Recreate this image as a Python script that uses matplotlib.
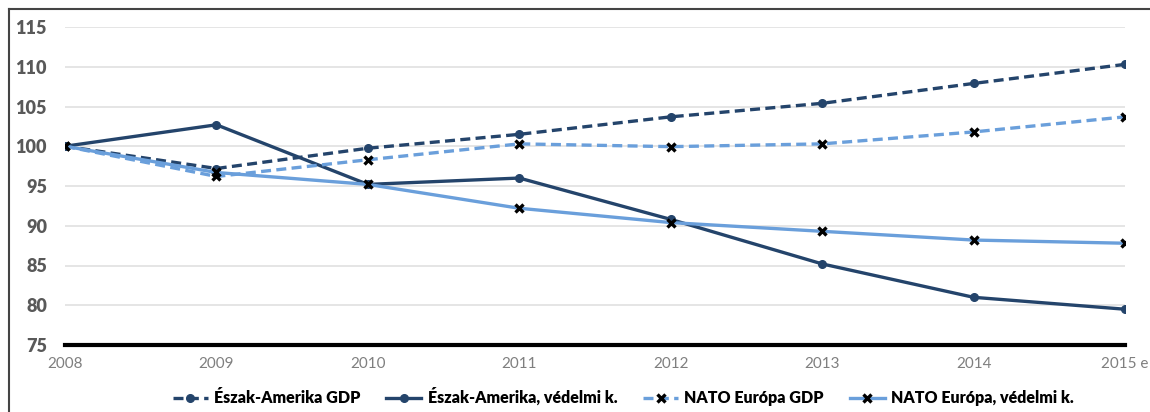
import matplotlib
matplotlib.use("Agg")
import matplotlib.pyplot as plt
from matplotlib.lines import Line2D

plt.rcParams["font.family"] = ["Lato", "DejaVu Sans"]

years = [2008, 2009, 2010, 2011, 2012, 2013, 2014, 2015]
xlabels = ["2008", "2009", "2010", "2011", "2012", "2013", "2014", "2015 e"]
na_gdp = [100, 97.2, 99.75, 101.5, 103.7, 105.4, 107.9, 110.3]
na_def = [100, 102.7, 95.2, 96.0, 90.8, 85.2, 81.0, 79.5]
eu_gdp = [100, 96.2, 98.3, 100.3, 99.95, 100.3, 101.8, 103.7]
eu_def = [100, 96.7, 95.2, 92.2, 90.4, 89.3, 88.2, 87.8]
yticks = [75, 80, 85, 90, 95, 100, 105, 110, 115]

dark = "#24446B"
light = "#6A9FDB"

fig = plt.figure(figsize=(11.5, 4.12), dpi=100)
ax = fig.add_axes([65/1150, 67/412, 1060/1150, 318/412])

ax.plot(years, na_gdp, color=dark, lw=2.4, ls=(0, (3, 1.6)), marker="o", ms=5.5,
        label="Észak-Amerika GDP", zorder=3)
ax.plot(years, na_def, color=dark, lw=2.4, ls="-", marker="o", ms=5.5,
        label="Észak-Amerika, védelmi k.", zorder=3)
ax.plot(years, eu_gdp, color=light, lw=2.4, ls=(0, (3, 1.6)), marker="x", ms=5.5,
        mec="black", mew=2.4, label="NATO Európa GDP", zorder=4)
ax.plot(years, eu_def, color=light, lw=2.4, ls="-", marker="x", ms=5.5,
        mec="black", mew=2.4, label="NATO Európa, védelmi k.", zorder=4)

ax.set_xlim(2008, 2015)
ax.set_ylim(75, 115)
ax.set_yticks(yticks)
ax.set_xticks(years)
ax.set_xticklabels(xlabels, color="#7F7F7F", fontsize=11)
for lab in ax.get_yticklabels():
    lab.set_fontweight("heavy")
    lab.set_color("#595959")
    lab.set_fontsize(13)
ax.tick_params(axis="both", length=0)
ax.tick_params(axis="y", pad=13)
ax.tick_params(axis="x", pad=9)
ax.grid(axis="y", color="#E3E3E3", lw=1.3)
ax.set_axisbelow(True)
for s in ["top", "right", "left"]:
    ax.spines[s].set_visible(False)
ax.spines["bottom"].set_linewidth(3)
ax.spines["bottom"].set_color("black")
ax.spines["bottom"].set_zorder(5)

fig.legend(loc="center", bbox_to_anchor=(0.542, 1 - 397/412), ncol=4,
           frameon=False, prop={"weight": "heavy", "size": 11.5},
           handlelength=2.2, columnspacing=1.6, handletextpad=0.4)

# figure frame (left and top only)
fig.add_artist(Line2D([9/1150, 9/1150], [0, 1 - 9/412], transform=fig.transFigure,
                      color="#444444", lw=1.5))
fig.add_artist(Line2D([9/1150, 1], [1 - 9/412, 1 - 9/412], transform=fig.transFigure,
                      color="#444444", lw=1.5))

fig.savefig("out.png", dpi=100)
